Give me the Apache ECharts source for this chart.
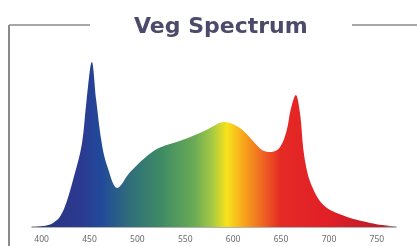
<!DOCTYPE html>
<html>
<head>
<meta charset="utf-8">
<script src="https://cdn.jsdelivr.net/npm/echarts@6/dist/echarts.min.js"></script>
<style>
  html, body { margin: 0; padding: 0; background: #fff; }
  #chart { width: 417px; height: 246px; }
</style>
</head>
<body>
<div id="chart"></div>
<script>
// wavelength (nm) and relative intensity (%)
const wavelengths = [390, 404, 412, 419, 426, 434, 442, 447, 452.5, 457, 463, 469, 479, 492, 508, 523, 547, 572, 591, 607, 617, 630, 640, 649, 656, 660, 665.4, 670, 673, 676, 680, 687, 694, 704, 715, 728, 743, 756, 769];
const intensity   = [0,   0.8, 2.5, 6,   15,  31,  50,  77,  100,   77,  50,  36,  23.6, 33, 42,  48,  52.7, 58.8, 63.6, 60, 54.5, 46.7, 45.5, 48.5, 58.8, 71, 80, 68, 48.5, 37, 28, 19, 13.5, 9.5, 7, 4.5, 2.5, 1.2, 0.4];
const tickLabels  = [400, 450, 500, 550, 600, 650, 700, 750];

const xMin = 390, xMax = 770;
const spectrumStops = [
  [398, '#2a3580'], [440, '#2b3990'], [462, '#21499a'], [492, '#2f6e7a'],
  [526, '#3f8c63'], [560, '#6aab55'], [578, '#a3c845'], [594, '#f7e31b'],
  [612, '#f8a41c'], [630, '#f06a22'], [650, '#e52a25'], [700, '#e11f26'],
  [765, '#b41c2a']
];

const chart = echarts.init(document.getElementById('chart'));

chart.setOption({
  animation: false,
  title: {
    text: 'Veg Spectrum',
    left: 129,
    top: 11,
    textStyle: {
      fontFamily: 'DejaVu Sans',
      fontWeight: 'bold',
      fontSize: 22,
      color: '#4b4a6b'
    }
  },
  graphic: [
    { type: 'line', shape: { x1: 9, y1: 25, x2: 9, y2: 246 }, style: { stroke: '#8a8a8a', lineWidth: 2 } },
    { type: 'line', shape: { x1: 9, y1: 25, x2: 90, y2: 25 }, style: { stroke: '#8a8a8a', lineWidth: 1.5 } },
    { type: 'line', shape: { x1: 352, y1: 25, x2: 417, y2: 25 }, style: { stroke: '#8a8a8a', lineWidth: 1.5 } }
  ],
  grid: { left: 32, top: 62, width: 364, height: 165 },
  xAxis: {
    type: 'value',
    min: xMin,
    max: xMax,
    splitLine: { show: false },
    axisLine: { lineStyle: { color: '#9a9a9a', width: 1.5 } },
    axisTick: { show: false },
    axisLabel: {
      customValues: tickLabels,
      color: '#6a6a6a',
      fontSize: 8.5,
      fontFamily: 'Noto Sans',
      margin: 8
    }
  },
  yAxis: {
    type: 'value',
    min: 0,
    max: 100,
    show: false
  },
  series: [{
    type: 'line',
    data: wavelengths.map((w, i) => [w, intensity[i]]),
    smooth: 0.35,
    symbol: 'none',
    lineStyle: { width: 0 },
    areaStyle: {
      opacity: 1,
      color: new echarts.graphic.LinearGradient(0, 0, 1, 0,
        spectrumStops.map(s => ({ offset: (s[0] - xMin) / (xMax - xMin), color: s[1] })))
    }
  }]
});
</script>
</body>
</html>
